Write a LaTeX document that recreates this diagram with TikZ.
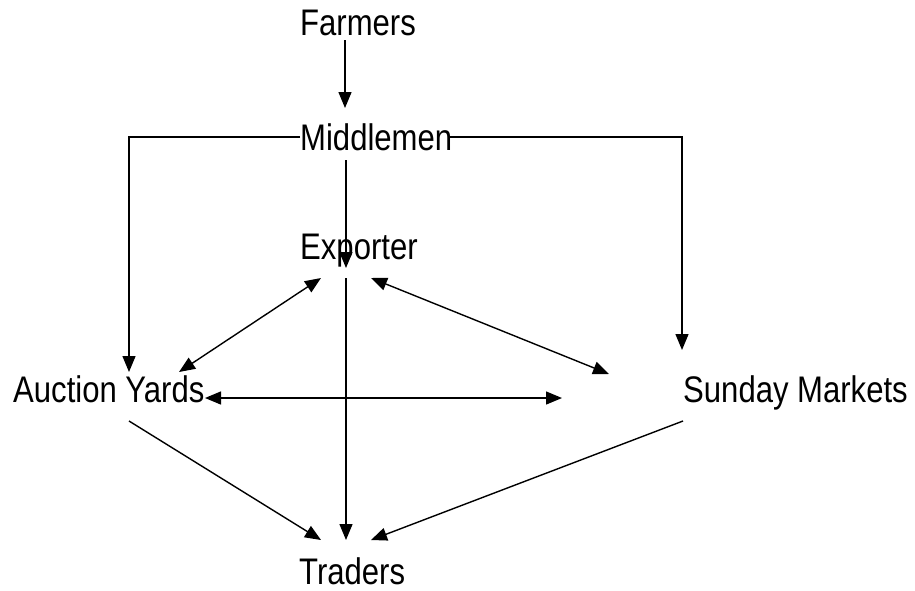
\documentclass[tikz,border=0pt]{standalone}
\usepackage{fontspec}
\setmainfont{Liberation Sans}
\newfontfamily\lblfont[FakeStretch=0.84]{Liberation Sans}
\usetikzlibrary{arrows.meta}
\begin{document}
\begin{tikzpicture}[x=1pt,y=-1pt,
  lbl/.style={anchor=base west,inner sep=0pt,font=\lblfont\fontsize{37}{44}\selectfont},
  conn/.style={line width=1.4pt,-{Triangle[length=16pt,width=13pt]}},
  bconn/.style={line width=1.4pt,{Triangle[length=16pt,width=13pt]}-{Triangle[length=16pt,width=13pt]}},
  plain/.style={line width=1.4pt}]
\useasboundingbox[fill=white] (0,0) rectangle (915,590);
% nodes
\node[lbl] (farmers) at (300,35) {Farmers};
\node[lbl] (middle) at (300,150) {Middlemen};
\node[lbl] (exporter) at (300,259) {Exporter};
\node[lbl] (auction) at (13,402) {Auction Yards};
\node[lbl] (sunday) at (683,402) {Sunday Markets};
\node[lbl] (traders) at (299,584) {Traders};
% connector end points
\coordinate (fOut) at (345,40);
\coordinate (mIn) at (345,108);
\coordinate (mL) at (300,137);
\coordinate (mR) at (450,137);
\coordinate (cornerL) at (129,137);
\coordinate (cornerR) at (682,137);
\coordinate (aTop) at (129,372);
\coordinate (sTop) at (682,350);
\coordinate (mOut) at (346,160);
\coordinate (eIn) at (346,268);
\coordinate (eL) at (321,278);
\coordinate (eR) at (371,278);
\coordinate (eB) at (346,278);
\coordinate (aR) at (179,372);
\coordinate (sL) at (609,374);
\coordinate (aH) at (205,398);
\coordinate (hEnd) at (562,398);
\coordinate (aB) at (129,421);
\coordinate (sB) at (683,421);
\coordinate (tL) at (321,540);
\coordinate (tM) at (346,540);
\coordinate (tR) at (371,540);
% connectors
\draw[conn] (fOut) -- (mIn);
\draw[conn] (mL) -- (cornerL) -- (aTop);
\draw[conn] (mR) -- (cornerR) -- (sTop);
\draw[conn] (mOut) -- (eIn);
\draw[bconn] (eL) -- (aR);
\draw[bconn] (eR) -- (sL);
\draw[bconn] (aH) -- (hEnd);
\draw[conn] (eB) -- (tM);
\draw[conn] (aB) -- (tL);
\draw[conn] (sB) -- (tR);
\end{tikzpicture}
\end{document}
